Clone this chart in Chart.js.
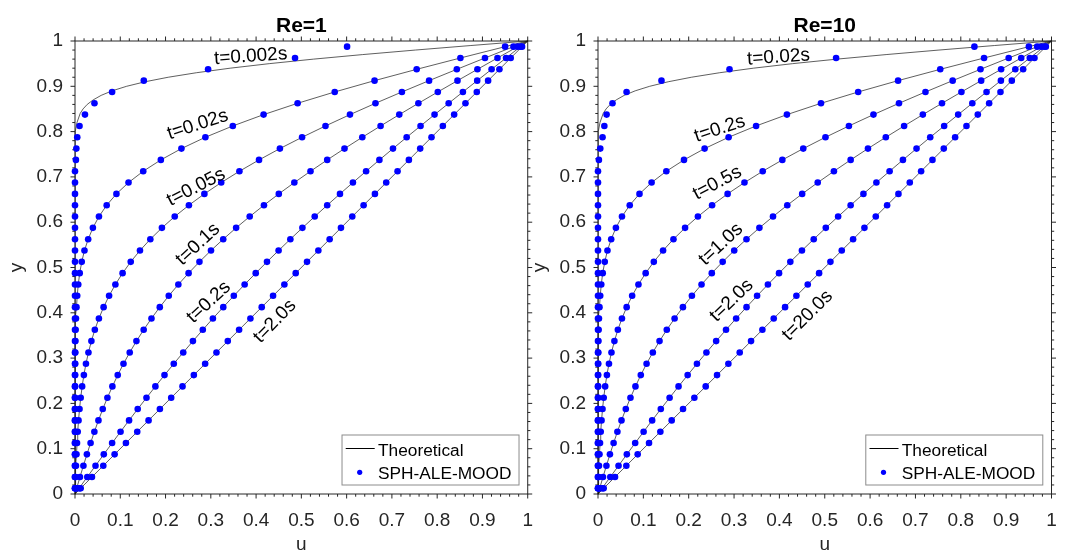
<!DOCTYPE html>
<html>
<head>
<meta charset="utf-8">
<title>Start-up Couette flow profiles</title>
<script src="https://cdn.jsdelivr.net/npm/chart.js@4.4.1/dist/chart.umd.min.js"></script>
<style>
  html, body { margin: 0; padding: 0; background: #fff; }
  #wrap { position: relative; width: 1066px; height: 552px; }
  canvas { position: absolute; top: 0; }
  #re1 { left: 0; }
  #re10 { left: 533px; }
</style>
</head>
<body>
<div id="wrap">
  <canvas id="re1" width="533" height="552"></canvas>
  <canvas id="re10" width="533" height="552"></canvas>
</div>
<script>
// particle heights, same for every profile
var particleY = [0.0125,0.0375,0.0625,0.0875,0.1125,0.1375,0.1625,0.1875,0.2125,0.2375,
                 0.2625,0.2875,0.3125,0.3375,0.3625,0.3875,0.4125,0.4375,0.4625,0.4875,
                 0.5125,0.5375,0.5625,0.5875,0.6125,0.6375,0.6625,0.6875,0.7125,0.7375,
                 0.7625,0.7875,0.8125,0.8375,0.8625,0.8875,0.9125,0.9375,0.9625,0.9875];

// SPH-ALE-MOOD velocities, earliest profile (differs a bit between the two panels)
var uEarlyRe1 = [0,0,0,0,0,0,0,0,0,0, 0,0,0,0,0,0,0,0,0,0, 0,0,0,0,0,0,0,0,0,
                 0.002,0.003,0.005,0.010,0.022,0.043,0.082,0.152,0.294,0.486,0.601];
var uEarlyRe10 = [0,0,0,0,0,0,0,0,0,0, 0,0,0,0,0,0,0,0,0,0, 0,0,0,0,0,0,0,0,0,
                  0.002,0.005,0.010,0.014,0.019,0.032,0.063,0.140,0.290,0.525,0.830];
// later profiles (same in both panels)
var uSecond = [0,0,0,0,0,0,0,0,0,0.0001,0.0002,0.0004,0.0006,0.0009,0.0014,0.0021,0.0033,0.0049,0.0072,0.0104,
               0.0149,0.0209,0.0291,0.0395,0.0529,0.0700,0.0915,0.1182,0.1507,0.1896,0.2351,0.2880,0.3486,0.4166,0.4917,0.5737,0.6617,0.7547,0.8513,0.9501];
var uThird = [0.0004,0.0013,0.0022,0.0033,0.0045,0.0060,0.0078,0.0100,0.0126,0.0158,0.0196,0.0242,0.0297,0.0362,0.0438,0.0528,0.0632,0.0753,0.0892,0.1051,
              0.1231,0.1435,0.1664,0.1920,0.2203,0.2516,0.2858,0.3230,0.3632,0.4065,0.4526,0.5016,0.5533,0.6074,0.6637,0.7221,0.7821,0.8434,0.9056,0.9685];
var uFourth = [0.0037,0.0110,0.0186,0.0263,0.0344,0.0428,0.0518,0.0613,0.0716,0.0826,0.0944,0.1071,0.1209,0.1357,0.1517,0.1689,0.1873,0.2071,0.2283,0.2509,
               0.2749,0.3004,0.3274,0.3559,0.3859,0.4174,0.4502,0.4845,0.5202,0.5571,0.5953,0.6346,0.6750,0.7163,0.7585,0.8014,0.8449,0.8889,0.9332,0.9777];
var uFifth = [0.0090,0.0271,0.0453,0.0636,0.0820,0.1006,0.1194,0.1385,0.1579,0.1776,0.1977,0.2182,0.2391,0.2605,0.2823,0.3046,0.3275,0.3508,0.3747,0.3992,
              0.4241,0.4497,0.4757,0.5023,0.5295,0.5571,0.5853,0.6139,0.6430,0.6724,0.7024,0.7326,0.7633,0.7942,0.8254,0.8568,0.8884,0.9202,0.9521,0.9840];
var uSteady = [0.0125,0.0375,0.0625,0.0875,0.1125,0.1375,0.1625,0.1875,0.2125,0.2375,
               0.2625,0.2875,0.3125,0.3375,0.3625,0.3875,0.4125,0.4375,0.4625,0.4875,
               0.5125,0.5375,0.5625,0.5875,0.6125,0.6375,0.6625,0.6875,0.7125,0.7375,
               0.7625,0.7875,0.8125,0.8375,0.8625,0.8875,0.9125,0.9375,0.9625,0.9875];

// theoretical curve of the earliest profile, read more densely near the moving wall
var earlyLineY = [0,0.7,0.75,0.8,0.82,0.84,0.85,0.86,0.87,0.88,0.89,0.9,0.91,0.92,0.93,0.94,0.95,0.96,0.97,0.98,0.99,1];
var earlyLineU = [0,0,0.0001,0.0016,0.0044,0.0114,0.0178,0.0270,0.0402,0.0578,0.0820,0.1139,0.1547,0.2059,0.2685,0.3428,0.4292,0.5271,0.6353,0.7518,0.8744,1];

var tickLabels = ['0','0.1','0.2','0.3','0.4','0.5','0.6','0.7','0.8','0.9','1'];
var legendLabels = ['Theoretical', 'SPH-ALE-MOOD'];
var timesRe1 = ['t=0.002s','t=0.02s','t=0.05s','t=0.1s','t=0.2s','t=2.0s'];
var timesRe10 = ['t=0.02s','t=0.2s','t=0.5s','t=1.0s','t=2.0s','t=20.0s'];
// where the time labels sit: [u, y, angle in degrees]
var timeAtRe1 = [[0.388,0.966,4],[0.271,0.815,18],[0.2675,0.677,27],[0.2715,0.551,43],[0.2955,0.4234,43],[0.4415,0.381,46]];
var timeAtRe10 = [[0.398,0.964,4],[0.2687,0.806,18],[0.263,0.6865,28],[0.271,0.551,43],[0.2945,0.4272,44],[0.4618,0.394,45]];

var fontFamily = '"Liberation Sans", Arial, Helvetica, sans-serif';
var dotColor = '#0000ff';
var axisColor = '#262626';
Chart.defaults.font.family = fontFamily;

function pairs(xs, ys) {
    return xs.map(function(x, i) { return {x: x, y: ys[i]}; });
}
function toWalls(arr) {
    return [0].concat(arr, [1]);
}

var panels = [
    {id: 're1', title: 'Re=1', early: uEarlyRe1, times: timesRe1, timeAt: timeAtRe1, yWidth: 75, padRight: 5},
    {id: 're10', title: 'Re=10', early: uEarlyRe10, times: timesRe10, timeAt: timeAtRe10, yWidth: 65, padRight: 14.5}
];
var panelsById = {};
panels.forEach(function(p) { panelsById[p.id] = p; });

var panelNotes = {
    id: 'panelNotes',
    beforeDatasetsDraw: function(chart) {
        var ctx = chart.ctx, a = chart.chartArea, x = chart.scales.x, y = chart.scales.y;
        ctx.save();
        ctx.strokeStyle = axisColor;
        ctx.lineWidth = 1;
        ctx.strokeRect(a.left, a.top, a.right - a.left, a.bottom - a.top);
        ctx.beginPath();
        for (var i = 0; i <= 50; i++) {
            var len = i % 5 === 0 ? 4.5 : 2.7;
            var px = x.getPixelForValue(i / 50), py = y.getPixelForValue(i / 50);
            ctx.moveTo(px, a.bottom); ctx.lineTo(px, a.bottom + len);
            ctx.moveTo(px, a.top); ctx.lineTo(px, a.top - len);
            ctx.moveTo(a.left, py); ctx.lineTo(a.left - len, py);
            ctx.moveTo(a.right, py); ctx.lineTo(a.right + len, py);
        }
        ctx.stroke();
        ctx.restore();
    },
    afterDatasetsDraw: function(chart) {
        var p = panelsById[chart.canvas.id];
        var ctx = chart.ctx, a = chart.chartArea, x = chart.scales.x, y = chart.scales.y;
        ctx.save();
        ctx.fillStyle = '#000';

        // time labels along the curves
        ctx.font = '19px ' + fontFamily;
        ctx.textAlign = 'center';
        ctx.textBaseline = 'middle';
        p.times.forEach(function(t, i) {
            var at = p.timeAt[i];
            ctx.save();
            ctx.translate(x.getPixelForValue(at[0]), y.getPixelForValue(at[1]));
            ctx.rotate(-at[2] * Math.PI / 180);
            ctx.fillText(t, 0, 0);
            ctx.restore();
        });

        // legend box
        var bx = a.right - 185.7, by = a.bottom - 59;
        ctx.fillStyle = '#fff';
        ctx.fillRect(bx, by, 177, 50);
        ctx.strokeStyle = '#8c8c8c';
        ctx.lineWidth = 1;
        ctx.strokeRect(bx, by, 177, 50);
        ctx.strokeStyle = '#000';
        ctx.beginPath();
        ctx.moveTo(bx + 3.7, by + 13.5);
        ctx.lineTo(bx + 32.7, by + 13.5);
        ctx.stroke();
        ctx.fillStyle = dotColor;
        ctx.beginPath();
        ctx.arc(bx + 17.7, by + 37.3, 2.6, 0, Math.PI * 2);
        ctx.fill();
        ctx.fillStyle = '#000';
        ctx.font = '17.3px ' + fontFamily;
        ctx.textAlign = 'left';
        ctx.textBaseline = 'alphabetic';
        ctx.fillText(legendLabels[0], bx + 36, by + 20.7);
        ctx.fillText(legendLabels[1], bx + 36, by + 44.3);

        // title and axis names
        var cx = (a.left + a.right) / 2, cy = (a.top + a.bottom) / 2;
        ctx.textAlign = 'center';
        ctx.font = 'bold 21px ' + fontFamily;
        ctx.fillText(p.title, cx, 31.7);
        ctx.fillStyle = axisColor;
        ctx.font = '19px ' + fontFamily;
        ctx.fillText('u', cx, 550);
        ctx.save();
        ctx.translate(a.left - 53, cy);
        ctx.rotate(-Math.PI / 2);
        ctx.fillText('y', 0, 0);
        ctx.restore();
        ctx.restore();
    }
};

function makeChart(p) {
    var dots = [p.early, uSecond, uThird, uFourth, uFifth, uSteady];
    var lines = [[earlyLineU, earlyLineY]];
    dots.slice(1).forEach(function(u) { lines.push([toWalls(u), toWalls(particleY)]); });

    var datasets = [];
    dots.forEach(function(u) {
        datasets.push({
            data: pairs(u, particleY), showLine: false, order: 0, clip: false,
            pointRadius: 3.3, pointBackgroundColor: dotColor, pointBorderWidth: 0
        });
    });
    lines.forEach(function(l) {
        datasets.push({
            data: pairs(l[0], l[1]), showLine: true, order: 1, clip: false,
            borderColor: '#1a1a1a', borderWidth: 0.7, pointRadius: 0, tension: 0
        });
    });

    return new Chart(document.getElementById(p.id), {
        type: 'scatter',
        data: {datasets: datasets},
        options: {
            responsive: false,
            animation: false,
            events: [],
            layout: {padding: {top: 41, right: p.padRight, left: 0, bottom: 0}},
            plugins: {legend: {display: false}, tooltip: {enabled: false}, title: {display: false}},
            scales: {
                x: {
                    type: 'linear', min: 0, max: 1,
                    // tick length only pushes the labels down, the marks are drawn by panelNotes
                    grid: {display: false, drawTicks: true, tickLength: 15},
                    border: {display: false},
                    ticks: {
                        stepSize: 0.1, autoSkip: false, maxRotation: 0, padding: 0,
                        color: axisColor, font: {size: 19},
                        callback: function(v) { return tickLabels[Math.round(v * 10)]; }
                    },
                    afterFit: function(s) { s.height = 58; }
                },
                y: {
                    type: 'linear', min: 0, max: 1,
                    grid: {display: false, drawTicks: true, tickLength: 12},
                    border: {display: false},
                    ticks: {
                        stepSize: 0.1, autoSkip: false, padding: 0,
                        color: axisColor, font: {size: 19},
                        callback: function(v) { return tickLabels[Math.round(v * 10)]; }
                    },
                    afterFit: function(s) { s.width = p.yWidth; }
                }
            }
        },
        plugins: [panelNotes]
    });
}

panels.forEach(makeChart);
</script>
</body>
</html>
